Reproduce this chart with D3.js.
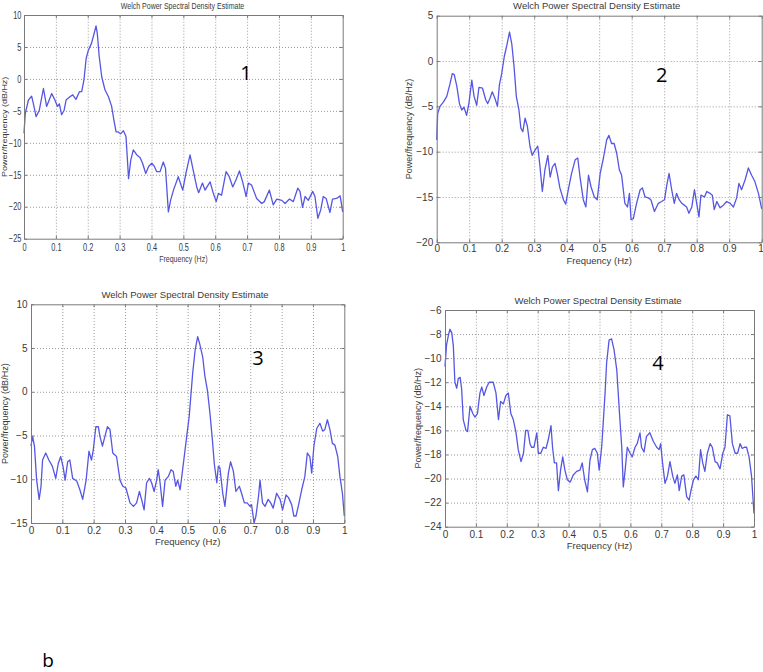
<!DOCTYPE html>
<html>
<head>
<meta charset="utf-8">
<script src="https://cdn.jsdelivr.net/npm/d3@7/dist/d3.min.js"></script>
<style>
  body { margin: 0; background: #fff; }
  svg { display: block; font-family: "Liberation Sans", Arial, sans-serif; }
</style>
</head>
<body>
<svg id="chart" width="763" height="672"></svg>
<script>
// ---- data ----
const xTicks = [0, 0.1, 0.2, 0.3, 0.4, 0.5, 0.6, 0.7, 0.8, 0.9, 1];
const xTickLabels = ['0', '0.1', '0.2', '0.3', '0.4', '0.5', '0.6', '0.7', '0.8', '0.9', '1'];
const yTicks1 = [-25, -20, -15, -10, -5, 0, 5, 10];
const yTicks2 = [-20, -15, -10, -5, 0, 5];
const yTicks3 = [-15, -10, -5, 0, 5, 10];
const yTicks4 = [-24, -22, -20, -18, -16, -14, -12, -10, -8, -6];

const freq1 = [0, .004, .014, .024, .029, .038, .048, .061, .071, .087, .097, .105, .111, .118, .126, .132, .144, .153, .163, .174, .181, .188, .195, .202, .212, .220, .226, .230, .236, .244, .254, .265, .275, .282, .289, .296, .303, .312, .320, .324, .328, .335, .343, .354, .364, .372, .382, .391, .401, .408, .416, .427, .437, .444, .453, .460, .469, .484, .498, .508, .521, .531, .542, .548, .560, .568, .584, .594, .603, .610, .620, .634, .644, .655, .665, .676, .686, .697, .704, .714, .730, .746, .754, .770, .782, .793, .809, .819, .833, .845, .859, .866, .874, .882, .892, .906, .913, .922, .931, .939, .948, .960, .968, .981, .992, 1];
const psd1 = [-8.5, -5.4, -3.3, -2.7, -3.8, -5.9, -4.9, -1.5, -4.3, -2.3, -3.3, -4.3, -3.9, -5.6, -4.9, -3.3, -2.8, -2.5, -3.2, -2.0, -2.0, -0.2, 3.2, 4.5, 5.6, 7.1, 8.3, 7.1, 3.5, 0.3, -1.7, -2.8, -4.3, -6.4, -8.3, -8.3, -8.6, -8.1, -9.0, -12.2, -15.6, -12.7, -11.1, -11.9, -12.3, -13.2, -14.8, -13.7, -13.2, -13.6, -14.5, -14.5, -13.0, -14.0, -20.8, -19.0, -17.4, -15.3, -17.4, -14.8, -11.9, -14.3, -16.9, -17.8, -16.3, -17.4, -16.1, -17.9, -19.2, -17.9, -18.2, -14.5, -15.3, -16.9, -15.8, -14.4, -16.1, -18.4, -16.3, -16.6, -18.7, -19.5, -19.2, -17.4, -19.7, -18.8, -19.0, -19.5, -18.8, -19.2, -17.1, -17.6, -20.1, -18.4, -19.0, -17.6, -18.4, -21.8, -20.5, -18.4, -18.7, -20.9, -18.8, -18.7, -18.3, -20.8];

const freq2 = [0, .003, .010, .021, .031, .041, .048, .054, .062, .070, .077, .084, .092, .099, .108, .115, .123, .130, .141, .151, .157, .164, .171, .179, .187, .193, .200, .208, .215, .224, .231, .238, .245, .253, .259, .265, .272, .279, .287, .294, .303, .311, .318, .325, .333, .342, .349, .356, .364, .371, .379, .390, .397, .405, .415, .426, .434, .441, .451, .459, .467, .475, .485, .494, .503, .513, .523, .530, .538, .546, .554, .562, .569, .579, .587, .593, .598, .605, .615, .626, .633, .641, .651, .659, .670, .682, .692, .701, .708, .715, .723, .731, .738, .746, .754, .762, .769, .776, .785, .793, .800, .807, .813, .824, .831, .841, .848, .854, .862, .872, .882, .892, .903, .913, .923, .930, .938, .949, .959, .969, .979, .990, 1];
const psd2 = [-8.7, -5.8, -5.0, -4.5, -3.9, -2.5, -1.4, -1.5, -2.8, -4.7, -5.4, -5.1, -6.0, -4.7, -2.1, -3.9, -4.9, -2.9, -3.0, -4.3, -4.7, -4.1, -3.4, -4.1, -5.0, -2.6, -1.4, 0.5, 1.6, 3.2, 1.9, -0.6, -3.9, -5.4, -7.4, -7.8, -6.3, -7.2, -9.4, -10.4, -9.8, -9.4, -11.7, -14.4, -12.0, -10.4, -12.8, -11.7, -11.3, -12.4, -14.0, -15.3, -15.8, -14.2, -12.4, -10.9, -10.7, -12.8, -15.3, -16.1, -12.6, -13.9, -15.0, -15.3, -12.4, -10.7, -8.7, -8.2, -9.1, -9.1, -10.2, -12.0, -12.6, -15.7, -16.1, -14.6, -17.5, -17.4, -15.7, -14.2, -14.0, -15.0, -15.1, -15.3, -16.6, -15.7, -15.5, -15.3, -13.7, -12.4, -14.2, -15.7, -14.6, -15.3, -15.7, -15.9, -16.1, -16.8, -16.1, -14.2, -15.7, -17.2, -14.8, -15.0, -14.4, -14.6, -14.8, -16.4, -15.5, -16.2, -15.9, -15.5, -15.7, -16.1, -15.1, -13.5, -14.2, -13.1, -11.8, -12.6, -13.3, -14.6, -16.3];

const freq3 = [0, .005, .011, .018, .026, .032, .037, .047, .057, .068, .079, .087, .095, .103, .109, .117, .124, .133, .146, .156, .165, .176, .185, .193, .199, .207, .215, .220, .228, .236, .244, .252, .261, .273, .284, .293, .303, .316, .327, .337, .346, .353, .361, .369, .378, .385, .393, .401, .406, .412, .420, .428, .438, .447, .454, .462, .468, .476, .484, .497, .505, .516, .524, .532, .539, .548, .555, .563, .571, .579, .585, .593, .598, .603, .612, .619, .630, .637, .646, .654, .665, .672, .681, .690, .699, .704, .712, .718, .726, .731, .739, .747, .757, .765, .773, .784, .795, .803, .814, .822, .832, .839, .846, .853, .864, .874, .882, .890, .896, .903, .912, .922, .931, .938, .946, .954, .962, .970, .979, .986, .994, 1];
const psd3 = [-6.2, -5.1, -6.2, -10.1, -12.3, -10.8, -7.8, -7.0, -7.8, -8.5, -9.9, -8.2, -7.4, -8.7, -10.1, -8.0, -7.8, -9.9, -10.2, -11.2, -12.3, -10.1, -6.8, -7.8, -6.6, -4.0, -4.0, -5.1, -6.2, -5.1, -4.0, -4.3, -7.0, -7.4, -10.1, -10.8, -11.0, -12.7, -13.1, -12.7, -11.4, -12.3, -13.5, -10.4, -9.9, -10.4, -11.4, -10.1, -8.9, -10.4, -13.1, -10.1, -9.7, -8.9, -9.1, -10.8, -10.1, -11.2, -8.9, -5.1, -2.8, 2.1, 4.8, 6.3, 5.4, 4.0, 1.8, 0.2, -2.4, -5.5, -8.2, -10.4, -8.5, -8.7, -11.6, -13.1, -9.3, -8.0, -9.1, -11.4, -10.8, -11.6, -12.7, -12.7, -13.1, -12.9, -15.0, -14.2, -12.0, -10.1, -12.7, -13.1, -12.3, -12.7, -13.3, -11.6, -12.3, -13.5, -11.8, -12.1, -12.9, -14.2, -14.2, -13.1, -11.2, -9.7, -7.0, -7.4, -9.3, -6.2, -4.2, -3.6, -4.5, -4.3, -3.2, -4.3, -5.9, -6.1, -7.4, -9.7, -11.6, -14.2];

const freq4 = [0, .005, .011, .016, .022, .027, .032, .038, .043, .049, .054, .059, .068, .073, .081, .090, .097, .105, .113, .119, .126, .135, .143, .156, .165, .173, .180, .189, .197, .205, .213, .221, .230, .237, .246, .254, .261, .268, .275, .280, .288, .297, .302, .310, .318, .327, .334, .343, .348, .354, .361, .367, .374, .381, .388, .396, .405, .415, .426, .437, .444, .452, .461, .469, .477, .485, .493, .499, .507, .512, .518, .523, .531, .539, .547, .556, .564, .572, .577, .583, .590, .599, .606, .615, .622, .631, .636, .644, .652, .663, .674, .685, .693, .698, .704, .712, .720, .728, .737, .744, .752, .758, .766, .773, .782, .790, .796, .804, .812, .820, .827, .834, .841, .849, .858, .865, .874, .881, .890, .899, .906, .914, .922, .930, .939, .947, .955, .962, .969, .976, .984, .992, 1];
const psd4 = [-10.7, -8.9, -8.1, -7.6, -7.9, -9.0, -12.0, -12.5, -11.7, -11.6, -12.6, -15.1, -16.0, -16.1, -14.0, -14.6, -14.9, -14.6, -12.9, -12.4, -13.1, -12.4, -12.0, -12.0, -12.9, -15.1, -13.6, -13.8, -13.1, -12.9, -14.6, -15.1, -16.2, -17.6, -18.6, -17.9, -16.0, -16.0, -17.1, -17.4, -17.4, -16.2, -17.9, -17.9, -17.4, -17.5, -16.8, -15.6, -17.4, -18.7, -18.7, -21.0, -19.3, -18.2, -19.3, -20.1, -20.3, -19.7, -19.4, -19.3, -18.7, -20.1, -21.1, -18.5, -17.6, -17.5, -17.9, -19.3, -17.4, -15.4, -12.9, -10.4, -8.5, -8.4, -9.3, -11.0, -14.3, -17.4, -20.7, -19.3, -17.4, -17.9, -18.2, -17.4, -17.1, -16.2, -17.4, -17.8, -16.5, -16.2, -16.9, -17.4, -17.6, -17.1, -18.7, -20.4, -19.8, -18.6, -19.8, -20.4, -19.7, -21.0, -19.8, -19.7, -21.5, -21.8, -21.0, -20.1, -19.8, -20.1, -17.6, -18.7, -19.4, -17.9, -17.1, -17.4, -18.6, -18.7, -19.2, -17.9, -17.4, -14.7, -14.8, -17.1, -17.9, -17.9, -17.1, -17.5, -17.4, -17.4, -18.2, -19.8, -22.9];

const titleText = 'Welch Power Spectral Density Estimate';
const xLabelText = 'Frequency (Hz)';
const yLabelText = 'Power/frequency (dB/Hz)';

// ---- layout for each subplot (pixel boxes) ----
const panels = [
  { f: freq1, p: psd1, yTicks: yTicks1, yDom: [-25, 10], x0: 24, x1: 342.7, y0: 15, y1: 238.7,
    sx: 0.74, titleX: 182.5, titleY: 5.5, ylabX: 5, xtPad: 5.5, xlOff: 19.5, num: '1', numX: 246, numY: 73 },
  { f: freq2, p: psd2, yTicks: yTicks2, yDom: [-20, 5], x0: 436.7, x1: 761.7, y0: 15.7, y1: 242.3,
    sx: 1, titleX: 596.7, titleY: 5.7, ylabX: 409, xtPad: 3, xlOff: 18, num: '2', numX: 661.7, numY: 75, lastEnd: true },
  { f: freq3, p: psd3, yTicks: yTicks3, yDom: [-15, 10], x0: 31, x1: 344.3, y0: 304.3, y1: 523,
    sx: 1, titleX: 185, titleY: 294.7, ylabX: 5, xtPad: 4, xlOff: 19, num: '3', numX: 258, numY: 358 },
  { f: freq4, p: psd4, yTicks: yTicks4, yDom: [-24, -6], x0: 445, x1: 754, y0: 310, y1: 526.7,
    sx: 1, titleX: 598, titleY: 301, ylabX: 418, xtPad: 4.5, xlOff: 18.5, num: '4', numX: 658, numY: 363 }
];

const svg = d3.select('#chart');
const lineColor = '#5656e4';
const axisColor = '#7a7a7a';
const textColor = '#3a3a3a';

panels.forEach(pn => {
  const g = svg.append('g');
  const w = pn.x1 - pn.x0, h = pn.y1 - pn.y0;

  const xScale = d3.scaleLinear().domain([0, 1]).range([pn.x0, pn.x1]);
  const yScale = d3.scaleLinear().domain(pn.yDom).range([pn.y1, pn.y0]);

  // dotted grid
  g.append('g')
    .attr('transform', `translate(0, ${pn.y1})`)
    .call(d3.axisBottom(xScale).tickValues(xTicks.slice(1, -1)).tickSize(-h).tickFormat(''))
    .call(a => a.select('.domain').remove())
    .selectAll('line').attr('stroke', '#9a9a9a').attr('stroke-dasharray', '1,2');
  g.append('g')
    .attr('transform', `translate(${pn.x0}, 0)`)
    .call(d3.axisLeft(yScale).tickValues(pn.yTicks.slice(1, -1)).tickSize(-w).tickFormat(''))
    .call(a => a.select('.domain').remove())
    .selectAll('line').attr('stroke', '#9a9a9a').attr('stroke-dasharray', '1,2');

  // the PSD curve
  const line = d3.line()
    .x((d, i) => xScale(pn.f[i]))
    .y(d => yScale(d));
  g.append('path')
    .datum(pn.p)
    .attr('d', line)
    .attr('fill', 'none')
    .attr('stroke', lineColor)
    .attr('stroke-width', 1.3)
    .attr('stroke-linejoin', 'round');

  // box + inward ticks on all sides
  const axes = [
    { ax: d3.axisBottom(xScale).tickValues(xTicks), t: `translate(0, ${pn.y1})`, lab: true },
    { ax: d3.axisTop(xScale).tickValues(xTicks), t: `translate(0, ${pn.y0})`, lab: false },
    { ax: d3.axisLeft(yScale).tickValues(pn.yTicks), t: `translate(${pn.x0}, 0)`, lab: true },
    { ax: d3.axisRight(yScale).tickValues(pn.yTicks), t: `translate(${pn.x1}, 0)`, lab: false }
  ];
  axes.forEach((a, k) => {
    a.ax.tickSizeInner(-3).tickSizeOuter(0).tickPadding(k < 2 ? pn.xtPad : 3.5);
    if (k === 0) a.ax.tickFormat((d, i) => xTickLabels[i]);
    if (!a.lab) a.ax.tickFormat('');
    const ag = g.append('g').attr('transform', a.t).call(a.ax);
    ag.select('.domain').attr('stroke', axisColor).attr('stroke-width', 1);
    ag.selectAll('line').attr('stroke', axisColor);
    ag.selectAll('text')
      .attr('fill', textColor)
      .style('font-size', '10px')
      .attr('transform', `scale(${pn.sx}, 1)`);
    // last x label of the right-edge panel sits flush with the page edge
    if (k === 0 && pn.lastEnd) {
      ag.selectAll('.tick:last-of-type text').attr('text-anchor', 'end').attr('x', 1.5);
    }
  });

  // title
  g.append('text')
    .attr('transform', `translate(${pn.titleX}, ${pn.titleY}) scale(${pn.sx}, 1)`)
    .attr('text-anchor', 'middle')
    .attr('dy', '0.35em')
    .attr('fill', textColor)
    .style('font-size', '9.5px')
    .text(titleText);

  // x label
  g.append('text')
    .attr('transform', `translate(${(pn.x0 + pn.x1) / 2}, ${pn.y1 + pn.xlOff}) scale(${pn.sx}, 1)`)
    .attr('text-anchor', 'middle')
    .attr('dy', '0.35em')
    .attr('fill', textColor)
    .style('font-size', '9.5px')
    .text(xLabelText);

  // y label
  g.append('text')
    .attr('transform', `translate(${pn.ylabX}, ${(pn.y0 + pn.y1) / 2}) rotate(-90) scale(1, ${pn.sx})`)
    .attr('text-anchor', 'middle')
    .attr('dy', '0.35em')
    .attr('fill', textColor)
    .style('font-size', '9px')
    .text(yLabelText);

  // panel number
  g.append('text')
    .attr('x', pn.numX)
    .attr('y', pn.numY)
    .attr('text-anchor', 'middle')
    .attr('dy', '0.35em')
    .attr('fill', '#000')
    .style('font-family', '"Open Sans", "Noto Sans", sans-serif')
    .style('font-size', '20px')
    .text(pn.num);
});

svg.append('text')
  .attr('x', 48)
  .attr('y', 667)
  .attr('text-anchor', 'middle')
  .attr('fill', '#000')
  .style('font-family', '"Open Sans", "Noto Sans", sans-serif')
  .style('font-size', '19px')
  .text('b');
</script>
</body>
</html>
